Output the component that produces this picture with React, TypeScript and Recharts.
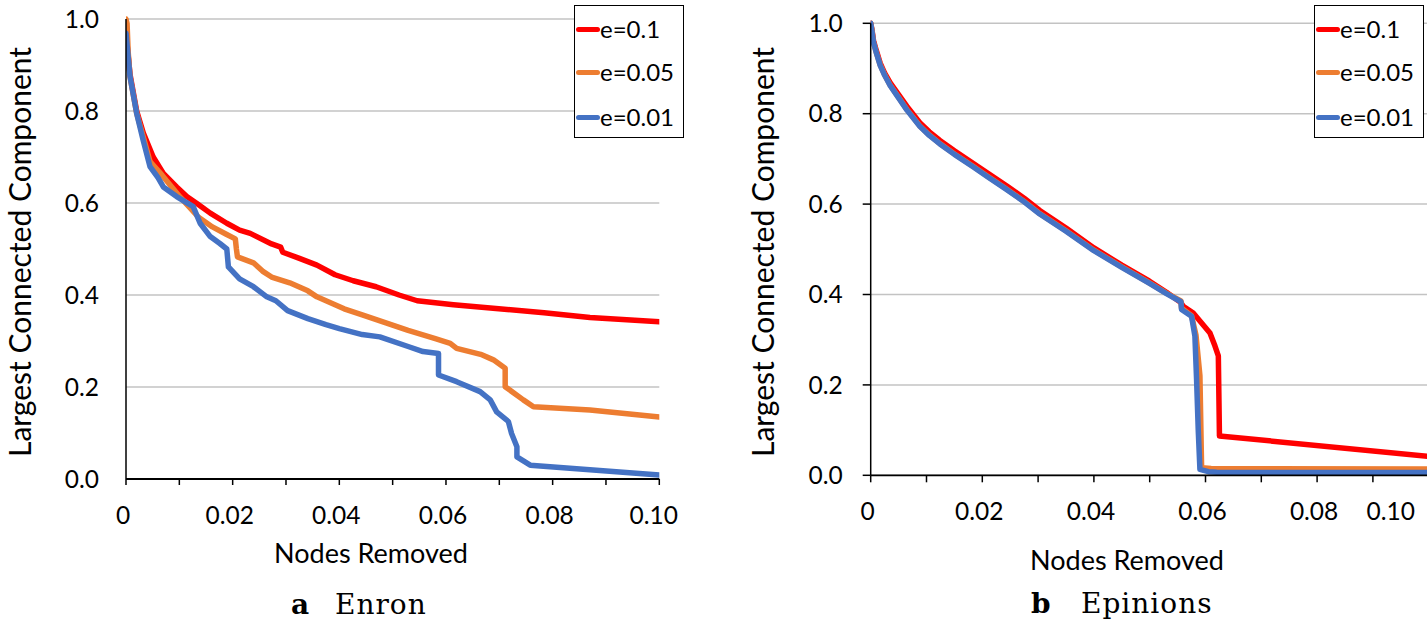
import React from 'react';
import { LineChart, Line, XAxis, YAxis, CartesianGrid, Legend } from 'recharts';

// ---- shared axis definitions ----
const xTicks = [0, 0.01, 0.02, 0.03, 0.04, 0.05, 0.06, 0.07, 0.08, 0.09, 0.1];
const xTickLabels = ['0', '', '0.02', '', '0.04', '', '0.06', '', '0.08', '', '0.10'];
const yTicks = [0, 0.2, 0.4, 0.6, 0.8, 1.0];
const yTickLabels = ['0.0', '0.2', '0.4', '0.6', '0.8', '1.0'];

const seriesNames = ['e=0.1', 'e=0.05', 'e=0.01'];
const seriesColors = ['#FF0000', '#ED7D31', '#4472C4'];

// ---- Enron ----
const enronX_e01 = [0, 0.00075, 0.002, 0.00325, 0.0051, 0.007, 0.0095, 0.0114, 0.0133, 0.0158, 0.0189, 0.0213, 0.0233, 0.0273, 0.029, 0.0294, 0.0324, 0.0358, 0.0392, 0.0426, 0.0469, 0.0512, 0.0546, 0.0614, 0.0699, 0.0784, 0.087, 0.1];
const enronY_e01 = [0.97, 0.88, 0.8, 0.752, 0.7, 0.664, 0.635, 0.614, 0.599, 0.578, 0.556, 0.541, 0.534, 0.511, 0.504, 0.493, 0.48, 0.465, 0.444, 0.431, 0.418, 0.4, 0.3875, 0.379, 0.37, 0.3616, 0.351, 0.342];

const enronX_e005 = [0, 0.0002, 0.0004, 0.00075, 0.002, 0.0032, 0.0045, 0.0068, 0.0102, 0.0136, 0.0162, 0.0188, 0.0205, 0.0207, 0.0209, 0.0239, 0.0256, 0.0273, 0.0307, 0.0341, 0.0358, 0.0392, 0.0409, 0.0443, 0.0486, 0.0529, 0.058, 0.0608, 0.062, 0.0665, 0.0689, 0.0711, 0.0711, 0.0745, 0.0764, 0.087, 0.1];
const enronY_e005 = [1.0, 0.99, 0.93, 0.875, 0.795, 0.745, 0.69, 0.66, 0.612, 0.569, 0.548, 0.532, 0.522, 0.5, 0.483, 0.47, 0.452, 0.439, 0.4265, 0.409, 0.396, 0.379, 0.37, 0.357, 0.34, 0.323, 0.305, 0.295, 0.284, 0.271, 0.259, 0.241, 0.2007, 0.172, 0.157, 0.15, 0.135];

const enronX_e001 = [0, 0.00075, 0.002, 0.0032, 0.0045, 0.006, 0.007, 0.0095, 0.0126, 0.0139, 0.0158, 0.0176, 0.0189, 0.0192, 0.0213, 0.0239, 0.0264, 0.0281, 0.0303, 0.0341, 0.0375, 0.04, 0.0443, 0.0476, 0.0529, 0.0557, 0.0586, 0.0586, 0.062, 0.0664, 0.0683, 0.0695, 0.0717, 0.0723, 0.0733, 0.0733, 0.0758, 0.1];
const enronY_e001 = [0.969, 0.875, 0.795, 0.737, 0.679, 0.655, 0.635, 0.614, 0.592, 0.556, 0.527, 0.512, 0.5, 0.461, 0.435, 0.418, 0.396, 0.3875, 0.366, 0.3486, 0.3356, 0.327, 0.314, 0.309, 0.288, 0.277, 0.273, 0.226, 0.2116, 0.19, 0.172, 0.146, 0.125, 0.099, 0.07, 0.048, 0.03, 0.0087];

// ---- Epinions ----
const epX_e01 = [0, 0.0002, 0.0005, 0.001, 0.0017, 0.0025, 0.0035, 0.005, 0.0065, 0.0088, 0.0105, 0.0124, 0.015, 0.0184, 0.021, 0.0244, 0.0275, 0.0303, 0.035, 0.04, 0.045, 0.0499, 0.053, 0.0556, 0.056, 0.0578, 0.0608, 0.0617, 0.0623, 0.0625, 0.1];
const epY_e01 = [1.0, 0.988, 0.962, 0.94, 0.912, 0.89, 0.868, 0.842, 0.816, 0.78, 0.76, 0.741, 0.718, 0.69, 0.668, 0.64, 0.613, 0.586, 0.547, 0.503, 0.465, 0.43, 0.405, 0.382, 0.374, 0.359, 0.315, 0.286, 0.264, 0.087, 0.042];

const epX_e005 = [0, 0.0002, 0.0005, 0.001, 0.0017, 0.0025, 0.0035, 0.005, 0.0065, 0.0088, 0.0105, 0.0124, 0.015, 0.0184, 0.021, 0.0244, 0.0275, 0.0303, 0.035, 0.04, 0.045, 0.0499, 0.053, 0.0556, 0.0557, 0.0575, 0.0583, 0.059, 0.0593, 0.061, 0.1];
const epY_e005 = [1.0, 0.986, 0.958, 0.936, 0.908, 0.886, 0.863, 0.836, 0.809, 0.773, 0.753, 0.734, 0.711, 0.683, 0.661, 0.633, 0.606, 0.579, 0.541, 0.498, 0.461, 0.426, 0.403, 0.386, 0.37, 0.353, 0.31, 0.22, 0.017, 0.015, 0.014];

const epX_e001 = [0, 0.0002, 0.0005, 0.001, 0.0017, 0.0025, 0.0035, 0.005, 0.0065, 0.0088, 0.0105, 0.0124, 0.015, 0.0184, 0.021, 0.0244, 0.0275, 0.0303, 0.035, 0.04, 0.045, 0.0499, 0.053, 0.0556, 0.0557, 0.0575, 0.0581, 0.0584, 0.0587, 0.059, 0.0605, 0.062, 0.08, 0.1];
const epY_e001 = [1.0, 0.985, 0.958, 0.935, 0.907, 0.885, 0.862, 0.835, 0.808, 0.772, 0.752, 0.733, 0.71, 0.682, 0.66, 0.632, 0.605, 0.578, 0.54, 0.497, 0.46, 0.425, 0.402, 0.384, 0.367, 0.352, 0.308, 0.212, 0.1, 0.013, 0.008, 0.007, 0.006, 0.006];

const zip = (xs: number[], ys: number[]) => xs.map((x, i) => ({ x, y: ys[i] }));

const enronSeries = [zip(enronX_e01, enronY_e01), zip(enronX_e005, enronY_e005), zip(enronX_e001, enronY_e001)];
const epinionsSeries = [zip(epX_e01, epY_e01), zip(epX_e005, epY_e005), zip(epX_e001, epY_e001)];

const FONT = 'Lato, "Open Sans", sans-serif';

function makeXTick(maxRight: number) {
  return function XTick(props: any) {
    const { x, y, payload } = props;
    const idx = xTicks.findIndex((t) => Math.abs(t - payload.value) < 1e-9);
    const label = idx >= 0 ? xTickLabels[idx] : '';
    if (!label) return null;
    let tx = x - 3;
    let anchor: any = 'middle';
    if (tx + 25 > maxRight) {
      tx = maxRight;
      anchor = 'end';
    }
    return (
      <text x={tx} y={y} dy="0.71em" textAnchor={anchor} fontFamily={FONT} fontSize={24.5} fill="#000">
        {label}
      </text>
    );
  };
}

function LegendBox(props: any) {
  const raw = props.payload || [];
  const items = seriesNames
    .map((n) => raw.find((it: any) => it.value === n))
    .filter(Boolean);
  const rowTops = [23, 66, 111];
  return (
    <div style={{ position: 'relative', width: 110, height: 133, border: '1.5px solid #000', boxSizing: 'border-box', background: '#fff' }}>
      {items.map((it: any, i: number) => (
        <div key={i} style={{ position: 'absolute', left: 0, top: rowTops[i] - 16, height: 32, display: 'flex', alignItems: 'center' }}>
          <div style={{ width: 24, height: 5, borderRadius: 3, background: it.color, marginLeft: 1 }} />
          <span style={{ fontFamily: FONT, fontSize: 24, color: '#000', lineHeight: '32px' }}>{it.value}</span>
        </div>
      ))}
    </div>
  );
}

type PanelProps = {
  series: { x: number; y: number }[][];
  width: number;
  yAxisWidth: number;
  marginTop: number;
  marginRight: number;
  marginBottom: number;
  tickSizeX: number;
  tickMarginX: number;
  tickSizeY: number;
  tickMarginY: number;
  maxRight: number;
  legendLeft: number;
};

function Panel(p: PanelProps) {
  return (
    <LineChart
      width={p.width}
      height={624}
      margin={{ top: p.marginTop, right: p.marginRight, bottom: p.marginBottom, left: 0 }}
    >
      <CartesianGrid vertical={false} stroke="#C3C3C3" strokeWidth={1.5} />
      <XAxis
        type="number"
        dataKey="x"
        domain={[0, 0.1]}
        ticks={xTicks}
        interval={0}
        allowDataOverflow
        height={60}
        tickSize={p.tickSizeX}
        tickMargin={p.tickMarginX}
        axisLine={{ stroke: '#000', strokeWidth: 1.8 }}
        tickLine={{ stroke: '#000', strokeWidth: 1.5 }}
        tick={makeXTick(p.maxRight)}
      />
      <YAxis
        type="number"
        domain={[0, 1]}
        ticks={yTicks}
        interval={0}
        width={p.yAxisWidth}
        tickSize={p.tickSizeY}
        tickMargin={p.tickMarginY}
        tickLine={p.tickSizeY > 0 ? { stroke: '#000', strokeWidth: 1.5 } : false}
        axisLine={{ stroke: '#000', strokeWidth: 1.5 }}
        tickFormatter={(v: number) => yTickLabels[yTicks.findIndex((t) => Math.abs(t - v) < 1e-9)] ?? ''}
        tick={{ fontFamily: FONT, fontSize: 24.5, fill: '#000' }}
      />
      <Legend
        layout="horizontal"
        align="center"
        verticalAlign="middle"
        content={<LegendBox />}
        wrapperStyle={{ left: p.legendLeft, top: 5, width: 110, height: 133 }}
      />
      {p.series.map((d, i) => (
        <Line
          key={seriesNames[i]}
          data={d}
          dataKey="y"
          name={seriesNames[i]}
          type="linear"
          stroke={seriesColors[i]}
          strokeWidth={5.5}
          dot={false}
          activeDot={false}
          isAnimationActive={false}
          strokeLinejoin="round"
          strokeLinecap="round"
        />
      ))}
    </LineChart>
  );
}

export default function App() {
  return (
    <div style={{ position: 'absolute', left: 0, top: 0, width: 1427, height: 624, overflow: 'hidden', background: '#fff' }}>
      <div style={{ position: 'absolute', left: 0, top: 0 }}>
        <Panel
          series={enronSeries}
          width={710}
          yAxisWidth={126}
          marginTop={19}
          marginRight={50.7}
          marginBottom={85}
          tickSizeX={6}
          tickMarginX={22}
          tickSizeY={0}
          tickMarginY={27}
          maxRight={678}
          legendLeft={574}
        />
      </div>
      <div style={{ position: 'absolute', left: 710, top: 0 }}>
        <Panel
          series={epinionsSeries}
          width={740}
          yAxisWidth={160.7}
          marginTop={23.3}
          marginRight={21.3}
          marginBottom={88.7}
          tickSizeX={7}
          tickMarginX={20}
          tickSizeY={8}
          tickMarginY={20}
          maxRight={705}
          legendLeft={604}
        />
      </div>
      <svg width={1427} height={624} style={{ position: 'absolute', left: 0, top: 0, pointerEvents: 'none' }}>
        <text transform="translate(31,252) rotate(-90)" textAnchor="middle" fontFamily={FONT} fontSize={30} fill="#000">
          Largest Connected Component
        </text>
        <text transform="translate(774,252) rotate(-90)" textAnchor="middle" fontFamily={FONT} fontSize={30} fill="#000">
          Largest Connected Component
        </text>
        <text x={371} y={563} textAnchor="middle" fontFamily={FONT} fontSize={27} fill="#000">Nodes Removed</text>
        <text x={1127} y={570} textAnchor="middle" fontFamily={FONT} fontSize={27} fill="#000">Nodes Removed</text>
        <text x={291} y={614} fontFamily='"DejaVu Serif", serif' fontSize={28} fontWeight="bold" fill="#000">a</text>
        <text x={335} y={614} fontFamily='"DejaVu Serif", serif' fontSize={28} letterSpacing={1} fill="#000">Enron</text>
        <text x={1031} y={613} fontFamily='"DejaVu Serif", serif' fontSize={28} fontWeight="bold" fill="#000">b</text>
        <text x={1081} y={613} fontFamily='"DejaVu Serif", serif' fontSize={28} letterSpacing={1} fill="#000">Epinions</text>
      </svg>
    </div>
  );
}
